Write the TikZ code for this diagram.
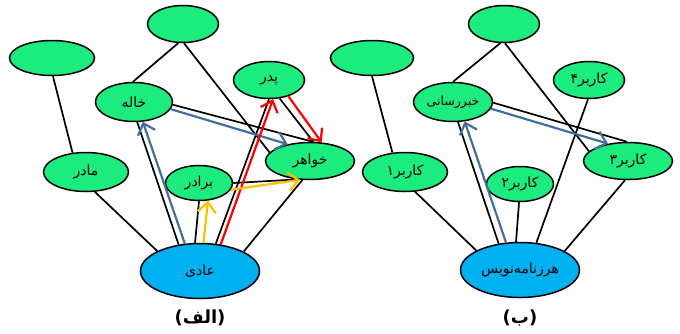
\documentclass[tikz,border=0pt]{standalone}
\usepackage{fontspec}
\setmainfont{DejaVu Sans}
\newfontfamily\arabicfont[Script=Arabic]{DejaVu Sans}
\TeXXeTstate=1
\usetikzlibrary{shapes.geometric,arrows.meta}
\definecolor{nodegreen}{HTML}{1CEB7E}
\definecolor{nodeblue}{HTML}{00B0F0}
\definecolor{arrblue}{HTML}{41709C}
\definecolor{arrred}{HTML}{FF0000}
\definecolor{arryel}{HTML}{FFC000}
\newcommand\fatext[1]{{\arabicfont\beginR #1\endR}}
\tikzset{
 el/.style={ellipse, draw=black, line width=1.5pt, fill=nodegreen, inner sep=0pt,
   font=\arabicfont\fontsize{14}{16}\selectfont},
 elb/.style={el, fill=nodeblue},
 edge/.style={draw=black, line width=1.7pt},
 arr/.style={line width=2.2pt, -{Straight Barb[length=10pt,width=18pt]}},
 lbl/.style={font=\arabicfont\bfseries\fontsize{18}{20}\selectfont},
}
\begin{document}
\begin{tikzpicture}[x=1pt,y=-1pt]
\useasboundingbox (0,0) rectangle (680,333);
% ---------- left graph (alef)
\node[el, minimum width=71pt, minimum height=37pt] (T1) at (183,24) {};
\node[el, minimum width=85pt, minimum height=35pt] (L1) at (52,58) {};
\node[el, minimum width=77pt, minimum height=39pt] (khale) at (134,102) {\fatext{خاله}};
\node[el, minimum width=71pt, minimum height=37pt] (pedar) at (269,80) {\fatext{پدر}};
\node[el, minimum width=89pt, minimum height=37pt] (khahar) at (310,161) {\fatext{خواهر}};
\node[el, minimum width=85pt, minimum height=39pt] (madar) at (86,172) {\fatext{مادر}};
\node[el, minimum width=67pt, minimum height=35pt] (baradar) at (199,183) {\fatext{برادر}};
\node[elb, minimum width=119pt, minimum height=55pt] (adi) at (200,271) {\fatext{عادی}};
\node[lbl] (lblA) at (200,318) {\fatext{(الف)}};

\draw[edge] (L1.-87) -- (madar.125);
\draw[edge] (T1.256) -- (khale.93);
\draw[edge] (T1.-87) -- (khahar.168);
\draw[edge] (khale.-4) -- (khahar.81);
\draw[edge] (khale.-81) -- (adi.129);
\draw[edge] (pedar.-90) -- (adi.60);
\draw[edge] (pedar.-60) -- (khahar.80);
\draw[edge] (baradar.0) -- (khahar.235);
\draw[edge] (baradar.-90) -- (adi.100);
\draw[edge] (madar.-66) -- (adi.155);
\draw[edge] (khahar.248) -- (adi.24);

\draw[arr, arrblue] (adi.119) -- (khale.-66);
\draw[arr, arrblue] (khale.-11) -- (khahar.143);
\draw[arr, arrred] (adi.52) -- (pedar.-78);
\draw[arr, arrred] (pedar.-40) -- (khahar.58);
\draw[arr, arryel] (baradar.-12) -- (khahar.242);
\draw[arr, arryel] (adi.83) -- (baradar.-63);

% ---------- right graph (be)
\node[el, minimum width=71pt, minimum height=37pt] (T2) at (504,24) {};
\node[el, minimum width=83pt, minimum height=35pt] (L2) at (372,58) {};
\node[el, minimum width=79pt, minimum height=39pt, font=\arabicfont\fontsize{12.5}{14}\selectfont] (khabar) at (453,102) {\fatext{خبررسانی}};
\node[el, minimum width=71pt, minimum height=37pt] (k4) at (589,80) {\fatext{کاربر۴}};
\node[el, minimum width=89pt, minimum height=37pt] (k3) at (628,161) {\fatext{کاربر۳}};
\node[el, minimum width=85pt, minimum height=39pt] (k1) at (405,172) {\fatext{کاربر۱}};
\node[el, minimum width=67pt, minimum height=35pt] (k2) at (520,184) {\fatext{کاربر۲}};
\node[elb, minimum width=119pt, minimum height=55pt] (harz) at (520,270) {\fatext{هرزنامه‌نویس}};
\node[lbl] (lblB) at (520,318) {\fatext{(ب)}};

\draw[edge] (L2.-90) -- (k1.123);
\draw[edge] (T2.-101) -- (khabar.90);
\draw[edge] (T2.-87) -- (k3.166);
\draw[edge] (khabar.-1) -- (k3.93);
\draw[edge] (khabar.-76) -- (harz.129);
\draw[edge] (k4.-93) -- (harz.59);
\draw[edge] (k2.-93) -- (harz.98);
\draw[edge] (k1.-63) -- (harz.156);
\draw[edge] (k3.-99) -- (harz.23);

\draw[arr, arrblue] (harz.117) -- (khabar.-59);
\draw[arr, arrblue] (khabar.-10) -- (k3.139);
\end{tikzpicture}
\end{document}
